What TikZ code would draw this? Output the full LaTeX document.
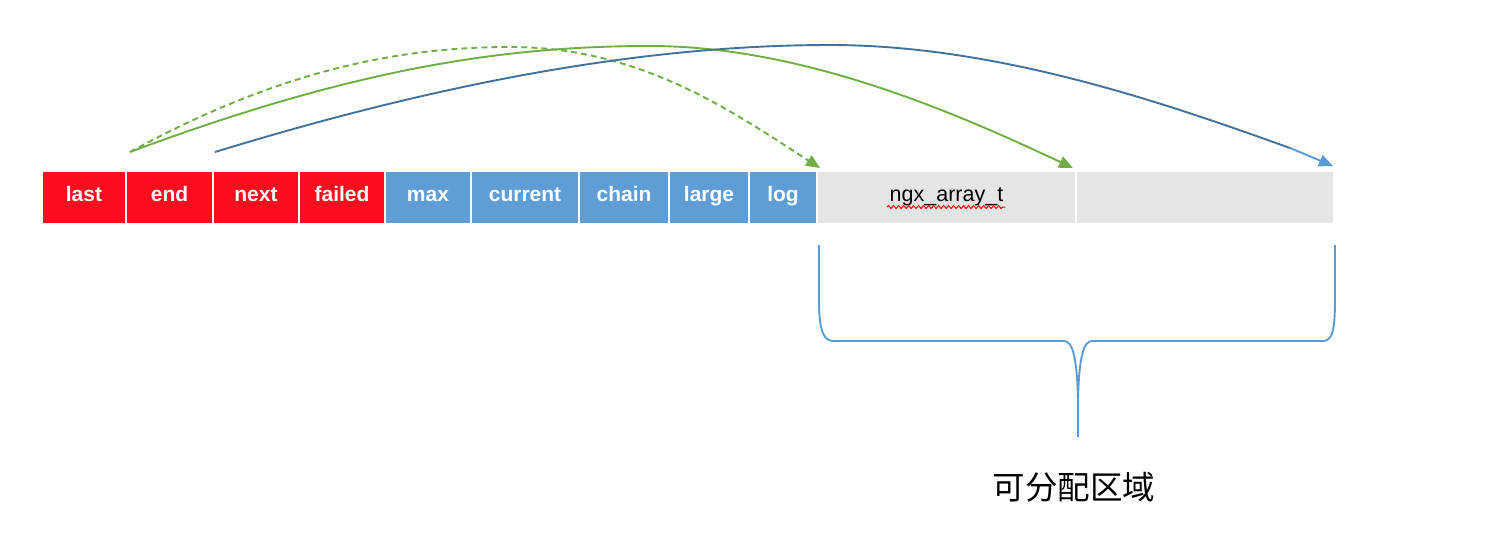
\documentclass[tikz,border=0pt]{standalone}
\usepackage{fontspec}
\setmainfont{Liberation Sans}
\newfontfamily\cjkfont{Noto Sans CJK SC}
\usetikzlibrary{positioning,calc,arrows.meta,decorations.pathmorphing}

\definecolor{cellred}{RGB}{254,13,30}
\definecolor{cellblue}{RGB}{95,157,214}
\definecolor{cellgray}{RGB}{229,229,229}
\definecolor{arrowgreen}{RGB}{112,173,71}
\definecolor{arrowdarkblue}{RGB}{65,113,156}
\definecolor{bracketblue}{RGB}{91,155,213}

\tikzset{
  field/.style={minimum height=51pt, inner sep=0pt, outer sep=0pt, text=white,
    text height=12pt, text depth=5pt,
    font=\fontsize{21}{25}\selectfont\bfseries},
  redfield/.style={field, fill=cellred},
  bluefield/.style={field, fill=cellblue},
  freefield/.style={field, fill=cellgray, text=black,
    font=\fontsize{21.5}{26}\selectfont},
  ptr/.style={line width=1.9pt, -{Triangle[length=14pt,width=12pt]}},
}

\begin{document}
\begin{tikzpicture}[x=1pt,y=-1pt,node distance=2pt]
\useasboundingbox (0,0) rectangle (1506,550);

% header fields of the pool
\node[redfield, minimum width=82pt, anchor=north west] (last) at (43,172) {last};
\node[redfield, minimum width=85pt, right=of last] (end) {end};
\node[redfield, minimum width=84pt, right=of end] (next) {next};
\node[redfield, minimum width=84pt, right=of next] (failed) {failed};
\node[bluefield, minimum width=84pt, right=of failed] (max) {max};
\node[bluefield, minimum width=106pt, right=of max] (current) {current};
\node[bluefield, minimum width=88pt, right=of current] (chain) {chain};
\node[bluefield, minimum width=78pt, right=of chain] (large) {large};
\node[bluefield, minimum width=66pt, right=of large] (log) {log};

% free space
\node[freefield, minimum width=257pt, right=of log] (array) {ngx\_array\_t};
\node[freefield, minimum width=256pt, right=of array] (free) {};
\draw[red, line width=1pt, decorate,
  decoration={snake, amplitude=1.5pt, segment length=5pt}] (887,207) -- (1005,207);

% pointers
\coordinate (lastsrc) at (130,152);
\coordinate (endsrc) at (215,152);
\coordinate (blueknee) at (1290,148);
\draw[ptr, arrowgreen, dash pattern=on 6pt off 4pt] (lastsrc)
  .. controls (280,70) and (400,47) .. (510,47)
  .. controls (640,47) and (730,110) .. ($(array.north west)+(2,-4)$);
\draw[ptr, arrowgreen] (lastsrc) .. controls (350,70) and (500,46) .. (650,46)
  .. controls (800,46) and (950,110) .. ($(array.north east)+(-2,-4)$);
\draw[line width=1.9pt, arrowdarkblue] (endsrc) .. controls (450,80) and (650,45) .. (830,45)
  .. controls (1000,45) and (1170,105) .. (blueknee);
\draw[ptr, bracketblue] (blueknee) -- ($(free.north east)+(0,-6)$);

% brace under the free space
\draw[bracketblue, line width=1.9pt] (819,245) -- (819,300)
  .. controls (819,335) and (825,341) .. (834,341) -- (1064,341)
  .. controls (1072,341) and (1077,355) .. (1078,400) -- (1078,437);
\draw[bracketblue, line width=1.9pt] (1078,400)
  .. controls (1079,355) and (1084,341) .. (1092,341) -- (1322,341)
  .. controls (1331,341) and (1335,335) .. (1335,300) -- (1335,245);

\node[font=\cjkfont\fontsize{32.5}{38}\selectfont] (pooltext) at (1074,487) {可分配区域};
\end{tikzpicture}
\end{document}
